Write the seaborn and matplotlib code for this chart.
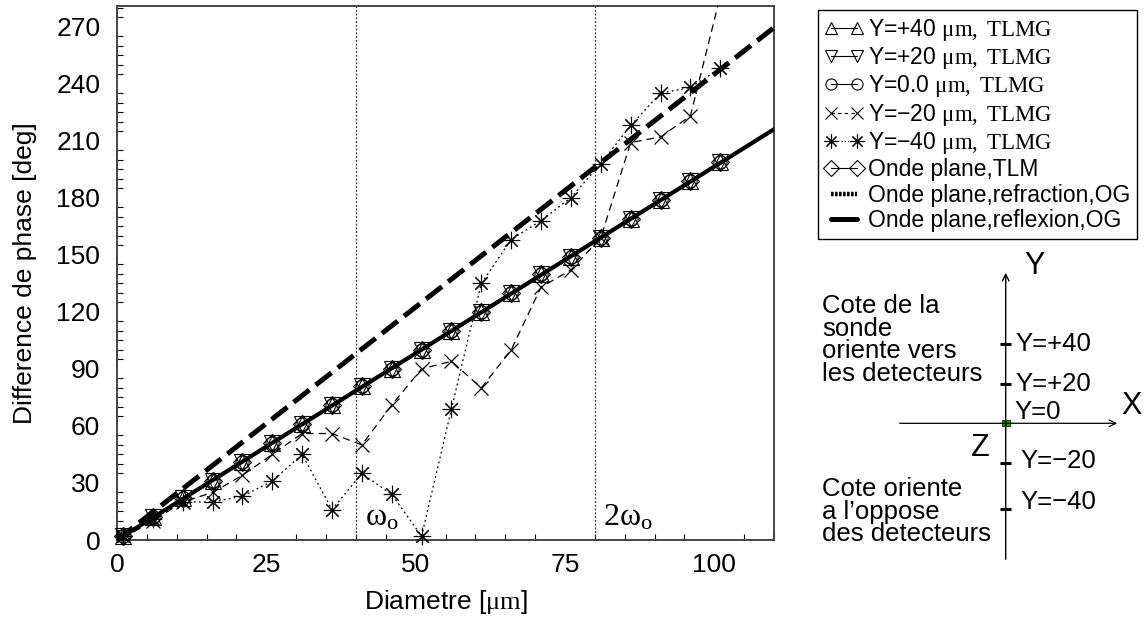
import matplotlib
matplotlib.use("Agg")
import matplotlib.pyplot as plt
import seaborn as sns
from matplotlib.lines import Line2D
from matplotlib.patches import Rectangle

# ---------------- data ----------------
diam = [1, 6, 11, 16, 21, 26, 31, 36, 41, 46, 51, 56, 61, 66, 71, 76, 81, 86, 91, 96, 101]
y_p40 = [2, 12, 22, 31, 41, 51, 61, 71, 81, 90, 100, 110, 120, 130, 140, 149, 159, 169, 179, 189, 199]
y_p20 = [2, 12, 22, 31, 41, 51, 61, 71, 81, 90, 100, 110, 120, 130, 140, 149, 159, 169, 179, 189, 199]
y_0 = [2, 12, 22, 31, 41, 51, 61, 71, 81, 90, 100, 110, 120, 130, 140, 149, 159, 169, 179, 189, 199]
y_m20 = [1, 10, 20, 25, 34, 45, 56, 56, 50, 71, 90, 94, 80, 100, 133, 142, 159, 209, 212, 223, 286]
y_m40 = [2, 11, 20, 20, 23, 31, 45, 16, 35, 24, 2, 69, 135, 158, 168, 180, 198, 218, 235, 238, 248]
y_tlm = [2, 12, 22, 31, 41, 51, 61, 71, 81, 90, 100, 110, 120, 130, 140, 149, 159, 169, 179, 189, 199]
og_x = [0, 110]
og_refraction = [0, 216]
og_reflexion = [0, 269.5]
vlines_x = [40, 80]
x_ticks = [0, 25, 50, 75, 100]
y_ticks = [0, 30, 60, 90, 120, 150, 180, 210, 240, 270]

labels = [
    r"Y=+40 $\mathrm{\mu m,\ TLMG}$",
    r"Y=+20 $\mathrm{\mu m,\ TLMG}$",
    r"Y=0.0 $\mathrm{\mu m,\ TLMG}$",
    "Y=\u221220 " + r"$\mathrm{\mu m,\ TLMG}$",
    "Y=\u221240 " + r"$\mathrm{\mu m,\ TLMG}$",
    "Onde plane,TLM",
    "Onde plane,refraction,OG",
    "Onde plane,reflexion,OG",
]

# ---------------- style ----------------
sns.set_style("white")
plt.rcParams["font.family"] = ["Liberation Sans", "DejaVu Sans"]
plt.rcParams["mathtext.fontset"] = "custom"
plt.rcParams["mathtext.rm"] = "Liberation Serif"
plt.rcParams["mathtext.it"] = "Liberation Serif:italic"
plt.rcParams["mathtext.bf"] = "Liberation Serif:bold"
plt.rcParams["text.color"] = "k"
plt.rcParams["axes.labelcolor"] = "k"
plt.rcParams["xtick.color"] = "k"
plt.rcParams["ytick.color"] = "k"

W, H = 1144, 617
fig = plt.figure(figsize=(W / 100, H / 100), dpi=100)
ax = fig.add_axes([117 / W, 1 - 540 / H, (774 - 117) / W, (540 - 5.7) / H])

common = dict(color="k", ax=ax, sort=False, legend=False)

sns.lineplot(x=diam, y=y_p40, marker="^", markersize=11, markerfacecolor="none",
             markeredgecolor="k", markeredgewidth=0.8, linewidth=0.8, clip_on=False,
             zorder=3, **common)
sns.lineplot(x=diam, y=y_p20, marker="v", markersize=11, markerfacecolor="none",
             markeredgecolor="k", markeredgewidth=0.8, linewidth=0.8, clip_on=False,
             zorder=3, **common)
sns.lineplot(x=diam, y=y_0, marker="o", markersize=9.5, markerfacecolor="none",
             markeredgecolor="k", markeredgewidth=0.8, linewidth=0.8, clip_on=False,
             zorder=3, **common)
sns.lineplot(x=diam, y=y_m20, marker="x", markersize=9.5, markerfacecolor="none",
             markeredgecolor="k", markeredgewidth=0.9, linewidth=0.9,
             linestyle=(0, (6, 4)), zorder=3, **common)
sns.lineplot(x=diam, y=y_m40, marker=(8, 2, 0), markersize=12.5, markerfacecolor="none",
             markeredgecolor="k", markeredgewidth=0.8, linewidth=0.9,
             linestyle=(0, (1.5, 2.5)), clip_on=False, zorder=3, **common)
sns.lineplot(x=diam, y=y_tlm, marker="D", markersize=9, markerfacecolor="none",
             markeredgecolor="k", markeredgewidth=0.8, linewidth=0.8, clip_on=False,
             zorder=3, **common)
sns.lineplot(x=og_x, y=og_refraction, linewidth=3.0, zorder=4, **common)
sns.lineplot(x=og_x, y=og_reflexion, linewidth=3.6, linestyle=(0, (4, 1.6)),
             zorder=4, **common)

for xv in vlines_x:
    ax.axvline(xv, color="#333333", linewidth=0.9, linestyle=(0, (1.5, 1.5)), zorder=2)

ax.text(41.6, 4, r"$\mathrm{\omega_o}$", fontsize=23, ha="left", va="bottom")
ax.text(81.3, 4, r"$\mathrm{2\omega_o}$", fontsize=23, ha="left", va="bottom")

ax.set_xlim(0, 110)
ax.set_ylim(0, 281)
ax.set_xticks(x_ticks)
ax.set_yticks(y_ticks)
ax.set_xticks(range(0, 111, 5), minor=True)
ax.set_yticks(range(0, 281, 5), minor=True)
ax.tick_params(axis="both", which="both", direction="in", top=False, right=False,
               labelsize=19, colors="k")
ax.tick_params(axis="y", which="major", length=7, width=1, pad=12)
ax.tick_params(axis="x", which="major", length=7, width=1, pad=9)
ax.tick_params(which="minor", length=4, width=0.8, left=True, bottom=True)
for s in ax.spines.values():
    s.set_color("#444444")
    s.set_linewidth(1.4)
ax.set_xlabel(r"Diametre [$\mathrm{\mu m}$]", fontsize=19, labelpad=8.5)
ax.set_ylabel("Difference de phase [deg]", fontsize=19, labelpad=14)

# ---------------- legend ----------------
mk = dict(color="k", markerfacecolor="none", markeredgecolor="k", markeredgewidth=0.8)
handles = [
    Line2D([], [], marker="^", markersize=9, linewidth=0.8, **mk),
    Line2D([], [], marker="v", markersize=9, linewidth=0.8, **mk),
    Line2D([], [], marker="o", markersize=8, linewidth=0.8, **mk),
    Line2D([], [], marker="x", markersize=8, linewidth=0.8, linestyle=(0, (3, 3)), **mk),
    Line2D([], [], marker=(8, 2, 0), markersize=10, linewidth=0.8, linestyle=(0, (1, 2)), **mk),
    Line2D([], [], marker="D", markersize=8, linewidth=0.8, **mk),
    Line2D([], [], color="k", linewidth=3.2, linestyle=(0, (0.6, 0.3))),
    Line2D([], [], color="k", linewidth=3.6),
]
leg = fig.legend(handles, labels, loc="upper left",
                 bbox_to_anchor=(817.7 / W, 1 - 10 / H), bbox_transform=fig.transFigure,
                 fontsize=16.5, numpoints=2, handlelength=1.7, handletextpad=0.2,
                 labelspacing=0.1, borderpad=0.3, borderaxespad=0, frameon=True,
                 fancybox=False, framealpha=1, edgecolor="k")
leg.get_frame().set_linewidth(1.0)

# ---------------- coordinate sketch (pixel overlay) ----------------
ov = fig.add_axes([0, 0, 1, 1], zorder=10)
ov.set_xlim(0, W)
ov.set_ylim(H, 0)
ov.axis("off")
ov.patch.set_alpha(0)

cx, cy = 1005.7, 423.3
ov.annotate("", xy=(cx, 270), xytext=(cx, 562),
            arrowprops=dict(arrowstyle="->", lw=1.0, color="k", mutation_scale=12))
ov.annotate("", xy=(1120, cy), xytext=(897, cy),
            arrowprops=dict(arrowstyle="->", lw=0.9, color="k", mutation_scale=12))
for ty in [344.3, 384, 462.7, 509.3]:
    ov.plot([1000, 1011], [ty, ty], color="k", lw=2.2, solid_capstyle="butt")
ov.add_patch(Rectangle((cx - 4, cy - 3), 8, 6, facecolor="#2e8b2e", edgecolor="#1a4d1a", lw=0.8))

ov.text(1015, 344.3, "Y=+40", fontsize=18.5, ha="left", va="center")
ov.text(1015, 384, "Y=+20", fontsize=18.5, ha="left", va="center")
ov.text(1014, 411.7, "Y=0", fontsize=18.5, ha="left", va="center")
ov.text(1020, 461, "Y=\u221220", fontsize=18.5, ha="left", va="center")
ov.text(1020, 502, "Y=\u221240", fontsize=18.5, ha="left", va="center")
ov.text(1035, 266, "Y", fontsize=22, ha="center", va="center")
ov.text(1132, 406, "X", fontsize=22, ha="center", va="center")
ov.text(980, 448, "Z", fontsize=22, ha="center", va="center")
ov.text(822, 294, "Cote de la\nsonde\noriente vers\nles detecteurs", fontsize=18.5,
        ha="left", va="top", linespacing=0.93)
ov.text(822, 477, "Cote oriente\na l\u2019oppose\ndes detecteurs", fontsize=18.5,
        ha="left", va="top", linespacing=0.93)

fig.savefig("out.png", dpi=100)
